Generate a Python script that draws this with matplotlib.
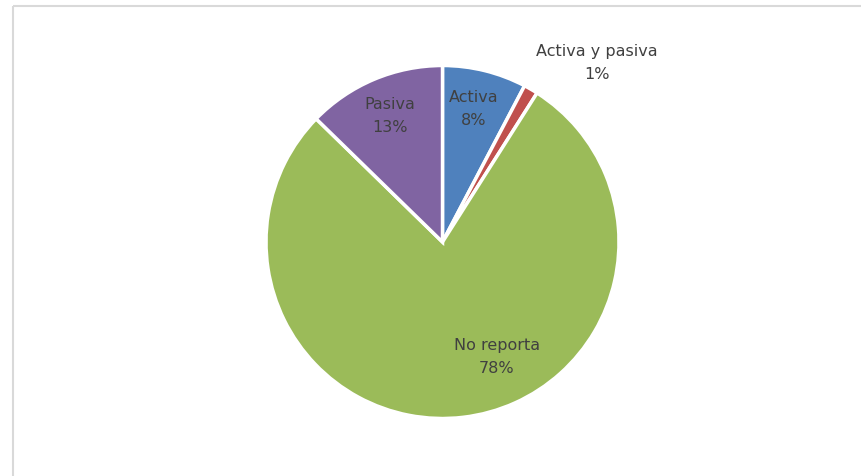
import matplotlib
matplotlib.use("Agg")
import matplotlib.pyplot as plt

categories = ["Activa", "Activa y pasiva", "No reporta", "Pasiva"]
values = [7.7, 1.3, 78.3, 12.7]
pct_labels = ["8%", "1%", "78%", "13%"]
colors = ["#4F81BD", "#C0504D", "#9BBB59", "#8064A2"]

W, H = 861, 476
fig = plt.figure(figsize=(W / 100, H / 100), dpi=100)
ax = fig.add_axes([0, 0, 1, 1])

cx, cy, r = 442.5, H - 242, 176.5
ax.pie(values, colors=colors, startangle=90, counterclock=False,
       center=(cx, cy), radius=r, frame=True,
       wedgeprops=dict(edgecolor="white", linewidth=2.5))
ax.set_xlim(0, W)
ax.set_ylim(0, H)
ax.set_aspect("equal")
ax.axis("off")

# chart frame (only top and left edges visible)
ax.plot([12.5, 12.5], [0, H - 5.5], color="#D9D9D9", lw=1.5, solid_capstyle="butt")
ax.plot([12.5, W], [H - 5.5, H - 5.5], color="#D9D9D9", lw=1.5, solid_capstyle="butt")

# label positions in pixel layout (x, y from top)
label_pos = [(474, 109), (597, 63), (497, 357), (390, 116)]
for cat, pct, (px, py) in zip(categories, pct_labels, label_pos):
    ax.text(px, H - py, f"{cat}\n{pct}", ha="center", va="center",
            fontsize=11.5, color="#404040", family="DejaVu Sans",
            linespacing=1.6)

fig.savefig("out.png", dpi=100)
